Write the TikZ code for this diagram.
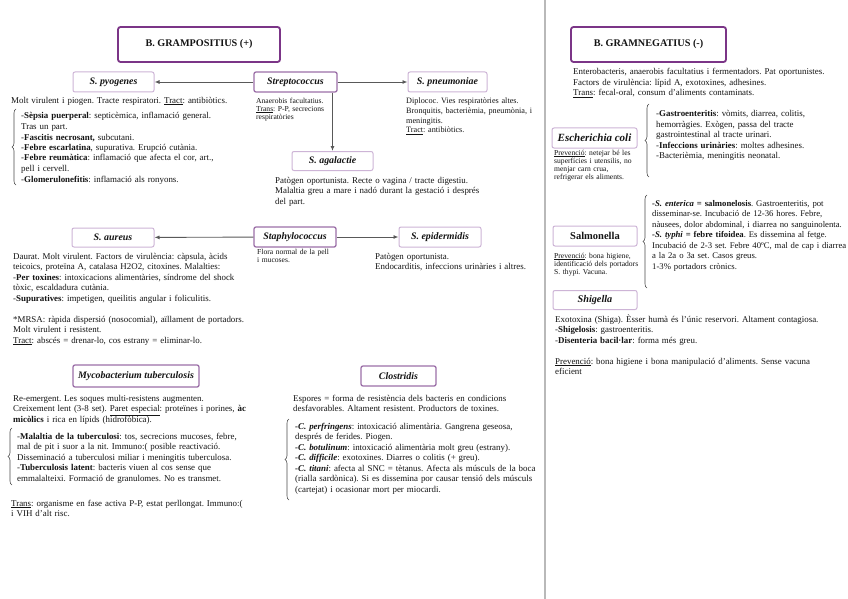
\documentclass[tikz,border=0pt]{standalone}
\usepackage{fontspec}
\setmainfont{Liberation Serif}
\usetikzlibrary{arrows.meta,positioning,calc,decorations.pathreplacing}
\definecolor{titlepurple}{HTML}{7B3587}
\definecolor{genpurple}{HTML}{9C70A8}
\definecolor{sppurple}{HTML}{CDB4D6}

\begin{document}
\frenchspacing
\begin{tikzpicture}[x=1pt,y=-1pt,
  every node/.style={inner sep=0pt,text=black!92},
  head/.style={draw=titlepurple,line width=1.8pt,rounded corners=2.5pt,fill=white,font=\fontsize{10.2}{11}\selectfont\bfseries},
  genus/.style={draw=genpurple,line width=1.3pt,rounded corners=2pt,fill=white,minimum height=20pt,font=\fontsize{9.9}{10}\selectfont\bfseries\itshape},
  spec/.style={draw=sppurple,line width=1pt,rounded corners=2pt,fill=white,minimum height=20pt,font=\fontsize{9.9}{10}\selectfont\bfseries\itshape},
  body/.style={anchor=base west,align=left,text width=340pt,font=\fontsize{8.9}{10.5}\selectfont},
  note/.style={anchor=base west,align=left,text width=120pt,font=\fontsize{7.6}{8.1}\selectfont},
  arr/.style={-{Latex[length=5pt,width=4pt]},line width=0.9pt,draw=black!65},
  brc/.style={decorate,decoration={brace,amplitude=4pt},line width=0.6pt,draw=black!70}
]
  \useasboundingbox[fill=white] (0,0) rectangle (848,599);
  \draw[gray!55,line width=1.3pt] (545,0) -- (545,599);

  % gram positius
  \node[head,minimum width=162pt,minimum height=35pt] (gpos) at (199,44.5) {B. GRAMPOSITIUS (+)};
  \node[genus,minimum width=83pt] (strep) at (295.5,82) {Streptococcus};
  \node[spec,minimum width=81pt] (pyo) at (113.5,82) {S. pyogenes};
  \node[spec,minimum width=79pt] (pneu) at (447.5,82) {S. pneumoniae};
  \node[spec,minimum width=81pt,minimum height=19pt] (agal) at (332.5,161) {S. agalactie};
  \draw[arr] (strep) -- (pyo);
  \draw[arr] (strep) -- (pneu);
  \draw[arr] (strep.south -| agal.north) -- (agal.north);

  \node[body] (pyotxt) at (11,103) {Molt virulent i piogen. Tracte respiratori. \underline{Tract}: antibiòtics.};
  \node[body] (pyolist) at (21,119) {-\textbf{Sèpsia puerperal}: septicèmica, inflamació general.\\Tras un part.\\-\textbf{Fascitis necrosant,} subcutani.\\-\textbf{Febre escarlatina}, supurativa. Erupció cutània.\\-\textbf{Febre reumàtica}: inflamació que afecta el cor, art.,\\pell i cervell.\\-\textbf{Glomerulonefitis}: inflamació als ronyons.};
  \draw[brc] (16,185) -- (16,109);
  \node[note] (streptxt) at (256,103) {Anaerobis facultatius.\\\underline{Trans}: P-P, secrecions\\respiratòries};
  \node[body,font=\fontsize{8.2}{9.6}\selectfont] (pneutxt) at (406,104) {Diplococ. Vies respiratòries altes.\\Bronquitis, bacterièmia, pneumònia, i\\meningitis.\\\underline{Tract}: antibiòtics.};
  \node[body] (agaltxt) at (275,183) {Patògen oportunista. Recte o vagina / tracte digestiu.\\Malaltia greu a mare i nadó durant la gestació i després\\del part.};

  \node[genus,minimum width=82pt] (staph) at (295,237) {Staphylococcus};
  \node[spec,minimum width=82pt,minimum height=19pt] (aur) at (113,237.5) {S. aureus};
  \node[spec,minimum width=82pt] (epi) at (440,237) {S. epidermidis};
  \draw[arr] (staph) -- (aur);
  \draw[arr] (staph) -- (epi);
  \node[note] (staphtxt) at (257,254) {Flora normal de la pell\\i mucoses.};
  \node[body] (epitxt) at (375,259) {Patògen oportunista.\\Endocarditis, infeccions urinàries i altres.};
  \node[body] (aurtxt) at (13,259) {Daurat. Molt virulent. Factors de virulència: càpsula, àcids\\teicoics, proteïna A, catalasa H2O2, citoxines. Malalties:\\-\textbf{Per toxines}: intoxicacions alimentàries, síndrome del shock\\tòxic, escaldadura cutània.\\-\textbf{Supuratives}: impetigen, queilitis angular i foliculitis.\\[10.5pt]*MRSA: ràpida dispersió (nosocomial), aïllament de portadors.\\Molt virulent i resistent.\\\underline{Tract}: abscés = drenar-lo, cos estrany = eliminar-lo.};

  \node[genus,minimum width=126pt,minimum height=22pt] (myco) at (136,376) {Mycobacterium tuberculosis};
  \node[body] (mycotxt) at (13,401) {Re-emergent. Les soques multi-resistens augmenten.\\Creixement lent (3-8 set). \underline{Paret especial}: proteïnes i porines, \textbf{àc}\\\textbf{micòlics} i rica en lípids (hidrofòbica).};
  \node[body] (mycolist) at (17,439) {-\textbf{Malaltia de la tuberculosi}: tos, secrecions mucoses, febre,\\mal de pit i suor a la nit. Immuno:( posible reactivació.\\Disseminació a tuberculosi miliar i meningitis tuberculosa.\\-\textbf{Tuberculosis latent}: bacteris viuen al cos sense que\\emmalalteixi. Formació de granulomes. No es transmet.};
  \draw[brc] (12,485) -- (12,428);
  \node[body] (mycotrans) at (11,506) {\underline{Trans}: organisme en fase activa P-P, estat perllongat. Immuno:(\\i VIH d'alt risc.};

  \node[genus,minimum width=75pt] (clos) at (398.5,376) {Clostridis};
  \node[body] (clostxt) at (293,401) {Espores = forma de resistència dels bacteris en condicions\\desfavorables. Altament resistent. Productors de toxines.};
  \node[body] (closlist) at (295,429) {\textbf{\textit{-C. perfringens}}: intoxicació alimentària. Gangrena geseosa,\\després de ferides. Piogen.\\\textbf{\textit{-C. botulinum}}: intoxicació alimentària molt greu (estrany).\\\textbf{\textit{-C. difficile}}: exotoxines. Diarres o colitis (+ greu).\\\textbf{\textit{-C. titani}}: afecta al SNC = tètanus. Afecta als músculs de la boca\\(rialla sardònica). Si es dissemina por causar tensió dels músculs\\(cartejat) i ocasionar mort per miocardi.};
  \draw[brc] (289,500) -- (289,419);

  % gram negatius
  \node[head,minimum width=155pt,minimum height=35pt] (gneg) at (648.5,44.5) {B. GRAMNEGATIUS (-)};
  \node[body] (gnegtxt) at (573,75) {Enterobacteris, anaerobis facultatius i fermentadors. Pat oportunistes.\\Factors de virulència: lípid A, exotoxines, adhesines.\\\underline{Trans}: fecal-oral, consum d'aliments contaminats.};

  \node[spec,minimum width=85pt,font=\fontsize{11}{12}\selectfont\bfseries\itshape] (ecoli) at (594.5,138) {Escherichia coli};
  \node[note] (ecolitxt) at (554,155) {\underline{Prevenció}: netejar bé les\\superfícies i utensilis, no\\menjar carn crua,\\refrigerar els aliments.};
  \node[body] (ecolilist) at (656,117) {-\textbf{Gastroenteritis}: vòmits, diarrea, colitis,\\hemorràgies. Exògen, passa del tracte\\gastrointestinal al tracte urinari.\\-\textbf{Infeccions urinàries}: moltes adhesines.\\-Bacterièmia, meningitis neonatal.};
  \draw[brc] (649,177) -- (649,104);

  \node[spec,minimum width=84pt,font=\fontsize{10.5}{12}\selectfont\bfseries] (salm) at (595,236) {Salmonella};
  \node[note] (salmtxt) at (554,258) {\underline{Prevenció}: bona higiene,\\identificació dels portadors\\S. thypi. Vacuna.};
  \node[body,font=\fontsize{8.7}{10.5}\selectfont] (salmlist) at (652,206) {\textbf{\textit{-S. enterica} = salmonelosis}. Gastroenteritis, pot\\disseminar-se. Incubació de 12-36 hores. Febre,\\nàusees, dolor abdominal, i diarrea no sanguinolenta.\\\textbf{\textit{-S. typhi} = febre tifoidea}. Es dissemina al fetge.\\Incubació de 2-3 set. Febre 40ºC, mal de cap i diarrea\\a la 2a o 3a set. Casos greus.\\1-3\% portadors crònics.};
  \draw[brc] (647,288) -- (647,195);

  \node[spec,minimum width=84pt,minimum height=19pt,font=\fontsize{10.2}{12}\selectfont\bfseries\itshape] (shig) at (595,300) {Shigella};
  \node[body] (shigtxt) at (555,322) {Exotoxina (Shiga). Èsser humà és l'únic reservori. Altament contagiosa.\\-\textbf{Shigelosis}: gastroenteritis.\\-\textbf{Disenteria bacil·lar}: forma més greu.\\[10.5pt]\underline{Prevenció}: bona higiene i bona manipulació d'aliments. Sense vacuna\\eficient};
\end{tikzpicture}
\end{document}
